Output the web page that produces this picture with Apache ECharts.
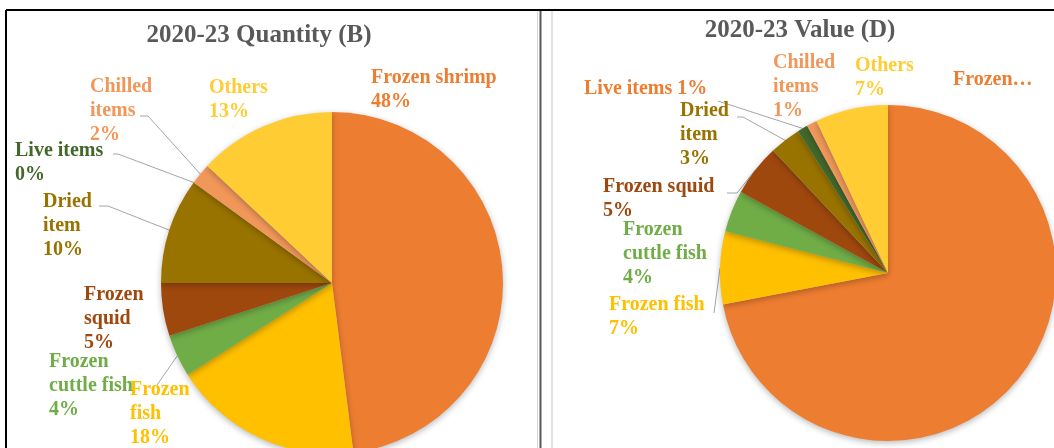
<!DOCTYPE html>
<html><head><meta charset="utf-8">
<script src="https://cdn.jsdelivr.net/npm/echarts@6/dist/echarts.min.js"></script>
<style>html,body{margin:0;padding:0;background:#fff}#c{width:1054px;height:448px}</style>
</head><body><div id="c"></div>
<script>
// ---- data ----
const categories = ['Frozen shrimp', 'Frozen fish', 'Frozen cuttle fish', 'Frozen squid', 'Dried item', 'Live items', 'Chilled items', 'Others'];
const quantityShare = [48, 18, 4, 5, 10, 0, 2, 13];     // % of 2020-23 quantity
const valueShare = [72, 7, 4, 5, 3, 1, 1, 7];           // % of 2020-23 value
const chartTitles = ['2020-23 Quantity (B)', '2020-23 Value (D)'];
const quantityLabelNames = ['Frozen shrimp', 'Frozen\nfish', 'Frozen\ncuttle fish', 'Frozen\nsquid', 'Dried\nitem', 'Live items', 'Chilled\nitems', 'Others'];
const valueLabelNames = ['Frozen…', 'Frozen fish', 'Frozen\ncuttle fish', 'Frozen squid', 'Dried\nitem', 'Live items', 'Chilled\nitems', 'Others'];
// separator between name and percentage (null = percentage hidden)
const quantityLabelSep = ['\n', '\n', '\n', '\n', '\n', '\n', '\n', '\n'];
const valueLabelSep = [null, '\n', '\n', '\n', '\n', ' ', '\n', '\n'];

// ---- styles / layout ----
const sliceColors = ['#ED7D31', '#FFC000', '#70AD47', '#9E480E', '#997300', '#43682B', '#F1975A', '#FFCD33'];
const quantityLabelColors = ['#ED7D31', '#FFC000', '#70AD47', '#9E480E', '#997300', '#43682B', '#F1975A', '#FFCD33'];
const valueLabelColors = ['#ED7D31', '#FFC000', '#70AD47', '#9E480E', '#997300', '#ED7D31', '#F1975A', '#FFCD33'];
const layouts = [
  {
    center: [332, 283], radius: 171,
    labelPos: [[371, 66], [130, 378], [49, 350], [84, 283], [43, 190], [15, 139], [90, 75], [209, 76]],
    leader: [null, null, [[157, 385], [157, 385]], null, [[108, 206], [99, 206]], [[118, 154], [113, 154]], [[148, 116], [140, 116]], null]
  },
  {
    center: [888, 273], radius: 168,
    labelPos: [[953, 68], [609, 293], [623, 218], [603, 175], [680, 99], [584, 77], [773, 51], [855, 54]],
    leader: [null, [[714, 313], [714, 313]], null, [[737, 193], [727, 193]], [[743, 117], [737, 117]], [[718, 101], [718, 101]], null, null]
  }
];

function buildData(values, labelColors, layout) {
  return categories.map((name, i) => ({
    name: name,
    value: values[i],
    itemStyle: { color: sliceColors[i] },
    label: { color: labelColors[i] },
    labelLine: { show: !!layout.leader[i] }
  }));
}

function makeFormatter(names, seps) {
  return function (p) {
    const s = seps[p.dataIndex];
    const n = names[p.dataIndex];
    return s === null ? n : n + s + Math.round(p.value) + '%';
  };
}

function edgePoint(layout, values, idx) {
  let total = values.reduce((a, b) => a + b, 0), cum = 0;
  for (let k = 0; k < idx; k++) cum += values[k];
  const mid = (cum + values[idx] / 2) / total * Math.PI * 2;
  return [layout.center[0] + layout.radius * Math.sin(mid), layout.center[1] - layout.radius * Math.cos(mid)];
}

const allValues = [quantityShare, valueShare];

function labelLayout(params) {
  const L = layouts[params.seriesIndex];
  const i = params.dataIndex;
  const p = L.labelPos[i];
  const res = { x: p[0], y: p[1], align: 'left', verticalAlign: 'top' };
  if (L.leader[i]) {
    const start = edgePoint(L, allValues[params.seriesIndex], i);
    res.labelLinePoints = [start, L.leader[i][0], L.leader[i][1]];
  }
  return res;
}

const labelBase = {
  show: true, position: 'outside',
  fontFamily: '"Liberation Serif", "Times New Roman", serif',
  fontWeight: 'bold', fontSize: 20, lineHeight: 24
};
const itemBase = { shadowBlur: 6, shadowColor: 'rgba(0,0,0,0.28)', shadowOffsetY: 2, borderWidth: 0 };

function pieSeries(values, names, seps, labelColors, layout) {
  return {
    type: 'pie',
    center: layout.center,
    radius: layout.radius,
    startAngle: 90,
    clockwise: true,
    avoidLabelOverlap: false,
    stillShowZeroSum: true,
    minShowLabelAngle: 0,
    animation: false,
    silent: true,
    itemStyle: itemBase,
    label: Object.assign({}, labelBase, { formatter: makeFormatter(names, seps) }),
    labelLine: { show: true, smooth: false, length: 10, length2: 10, lineStyle: { color: '#A6A6A6', width: 1 } },
    labelLayout: labelLayout,
    data: buildData(values, labelColors, layout)
  };
}

const chart = echarts.init(document.getElementById('c'), null, { renderer: 'canvas' });
chart.setOption({
  backgroundColor: '#ffffff',
  animation: false,
  graphic: [
    { type: 'line', shape: { x1: 6, y1: 10, x2: 1054, y2: 10 }, style: { stroke: '#000', lineWidth: 2 } },
    { type: 'line', shape: { x1: 6, y1: 10, x2: 6, y2: 448 }, style: { stroke: '#000', lineWidth: 2 } },
    { type: 'line', shape: { x1: 537.5, y1: 11, x2: 537.5, y2: 448 }, style: { stroke: '#D9D9D9', lineWidth: 1 } },
    { type: 'line', shape: { x1: 540.5, y1: 11, x2: 540.5, y2: 448 }, style: { stroke: '#595959', lineWidth: 2 } },
    { type: 'line', shape: { x1: 552, y1: 11, x2: 552, y2: 448 }, style: { stroke: '#D9D9D9', lineWidth: 1.5 } },
    { type: 'text', x: 259, y: 36, style: { text: chartTitles[0], font: 'bold 25px "Liberation Serif", serif', fill: '#595959', textAlign: 'center', textVerticalAlign: 'middle' } },
    { type: 'text', x: 800, y: 31, style: { text: chartTitles[1], font: 'bold 25px "Liberation Serif", serif', fill: '#595959', textAlign: 'center', textVerticalAlign: 'middle' } }
  ],
  series: [
    pieSeries(quantityShare, quantityLabelNames, quantityLabelSep, quantityLabelColors, layouts[0]),
    pieSeries(valueShare, valueLabelNames, valueLabelSep, valueLabelColors, layouts[1])
  ]
});
</script>
</body></html>
